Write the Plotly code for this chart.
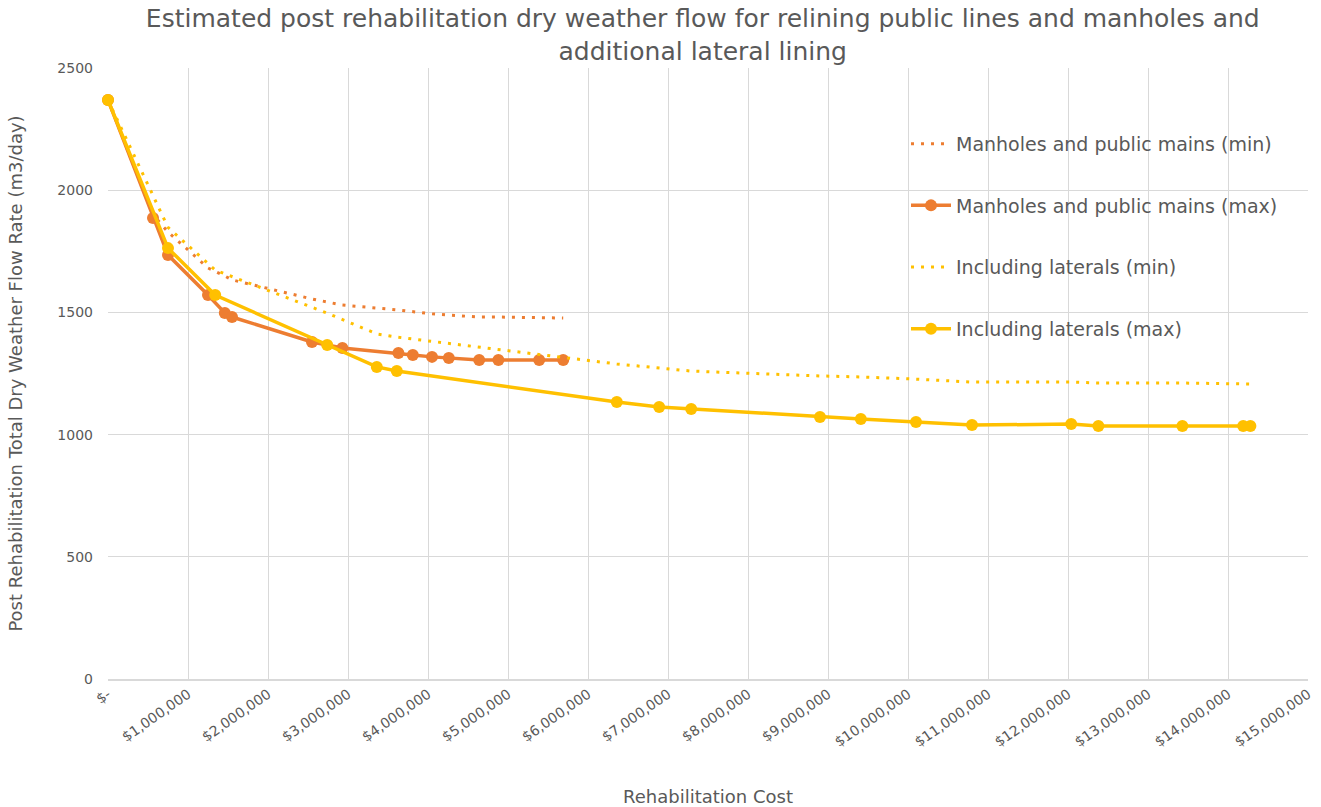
import plotly.graph_objects as go

# Costs ($) for the public mains/manholes options
mh_cost = [0, 562500, 750000, 1250000, 1460000, 1550000, 2550000, 2930000, 3630000,
           3810000, 4050000, 4260000, 4640000, 4880000, 5390000, 5690000]
mh_min = [2369, 1900, 1829, 1682, 1649, 1633, 1555, 1530, 1510, 1502, 1494, 1489,
          1481, 1481, 1477, 1477]
mh_max = [2369, 1886, 1735, 1571, 1498, 1481, 1379, 1354, 1334, 1326, 1318, 1313,
          1305, 1305, 1305, 1305]

# Costs ($) including lateral lining
lat_cost = [0, 750000, 1340000, 2740000, 3360000, 3610000, 6360000, 6890000, 7290000,
            8900000, 9410000, 10100000, 10800000, 12040000, 12380000, 13430000,
            14190000, 14280000]
lat_min = [2369, 1848, 1673, 1497, 1412, 1399, 1289, 1273, 1260, 1240, 1236, 1227,
           1215, 1215, 1211, 1211, 1207, 1207]
lat_max = [2369, 1763, 1571, 1367, 1277, 1260, 1133, 1113, 1105, 1072, 1064, 1052,
           1039, 1043, 1035, 1035, 1035, 1035]

x_tickvals = [i * 1000000 for i in range(16)]
x_ticktext = ["$-"] + ["${:,}".format(v) for v in x_tickvals[1:]]
y_tickvals = [0, 500, 1000, 1500, 2000, 2500]

ORANGE = "#ED7D31"
YELLOW = "#FFC000"
GREY = "#595959"
GRID = "#D9D9D9"
FONT = "DejaVu Sans"

fig = go.Figure()
fig.add_trace(go.Scatter(x=mh_cost, y=mh_min, mode="lines",
                         name="Manholes and public mains (min)",
                         line=dict(color=ORANGE, width=3, dash="3px,7px"),
                         legendgroup="a", cliponaxis=False))
fig.add_trace(go.Scatter(x=mh_cost, y=mh_max, mode="lines+markers",
                         name="Manholes and public mains (max)",
                         line=dict(color=ORANGE, width=3.5),
                         marker=dict(size=12, color=ORANGE),
                         legendgroup="b", cliponaxis=False))
fig.add_trace(go.Scatter(x=lat_cost, y=lat_min, mode="lines",
                         name="Including laterals (min)",
                         line=dict(color=YELLOW, width=3, dash="3px,7px"),
                         legendgroup="c", cliponaxis=False))
fig.add_trace(go.Scatter(x=lat_cost, y=lat_max, mode="lines+markers",
                         name="Including laterals (max)",
                         line=dict(color=YELLOW, width=3.5),
                         marker=dict(size=12, color=YELLOW),
                         legendgroup="d", cliponaxis=False))

fig.add_shape(type="rect", xref="paper", yref="paper", x0=0.643, x1=0.99, y0=0.525,
              y1=0.945, fillcolor="white", line=dict(width=0), layer="between")

fig.update_layout(
    width=1321, height=807,
    margin=dict(l=108, r=13, t=68, b=128),
    paper_bgcolor="white", plot_bgcolor="white",
    font=dict(family=FONT, color=GREY),
    title=dict(text="Estimated post rehabilitation dry weather flow for relining public lines and manholes and<br>additional lateral lining",
               x=0.532, xanchor="center", y=0.966, yanchor="top",
               font=dict(size=25, color=GREY, family=FONT)),
    showlegend=True,
    legend=dict(x=0.665, y=0.907, xanchor="left", yanchor="top",
                bgcolor="rgba(0,0,0,0)", font=dict(size=19, color=GREY),
                tracegroupgap=34, itemwidth=40),
    xaxis=dict(range=[0, 15000000], tickvals=x_tickvals, ticktext=x_ticktext,
               tickangle=-35, showgrid=True, gridcolor=GRID, gridwidth=1,
               zeroline=False, showline=True, linecolor=GRID, linewidth=1.5,
               automargin=False,
               tickfont=dict(size=14, color=GREY),
               title=dict(text="Rehabilitation Cost", font=dict(size=18, color=GREY), standoff=43)),
    yaxis=dict(range=[0, 2500], tickvals=y_tickvals, showgrid=True, gridcolor=GRID,
               gridwidth=1, zeroline=False, showline=False, automargin=False,
               tickfont=dict(size=14, color=GREY), ticklabelstandoff=14,
               title=dict(text="Post Rehabilitation Total Dry Weather Flow Rate (m3/day)",
                          font=dict(size=18, color=GREY), standoff=30)),
)

fig.write_html("out.html", config={"displayModeBar": False},
               post_script="document.body.style.margin='0';")
